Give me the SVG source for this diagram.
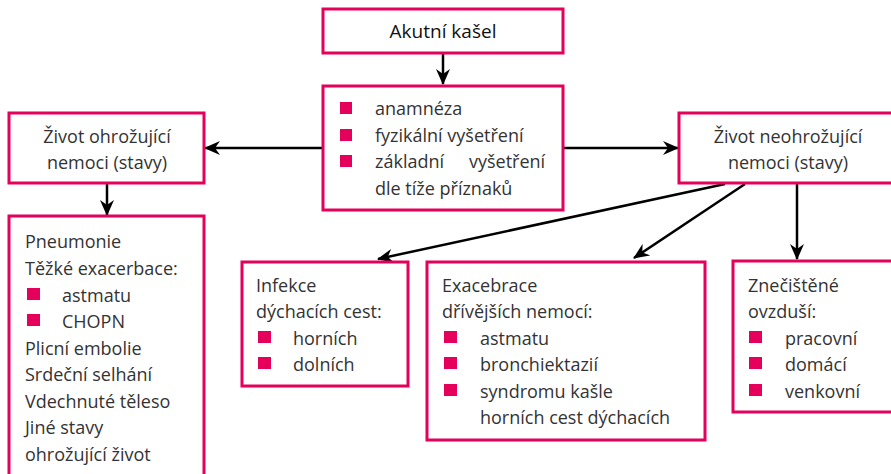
<svg xmlns="http://www.w3.org/2000/svg" width="891" height="474" viewBox="0 0 891 474">
<defs>
<style>
.box{fill:#fff;stroke:#e4005b;stroke-width:3}
.t{font-family:"Open Sans","Noto Sans","DejaVu Sans",sans-serif;font-size:18px;fill:#333}
.c{text-anchor:middle}
.b{fill:#e4005b}
.ln{stroke:#000;stroke-width:2.5;fill:none;marker-end:url(#ah)}
</style>
<marker id="ah" markerUnits="userSpaceOnUse" markerWidth="16" markerHeight="14" refX="15" refY="7" orient="auto">
<path d="M0,0 L16,7 L0,14 L5,7 Z" fill="#000"/>
</marker>
</defs>
<rect width="891" height="474" fill="#fff"/>
<g id="connectors">
<line class="ln" x1="443" y1="54" x2="443" y2="84"/>
<line class="ln" x1="323" y1="148" x2="205" y2="148"/>
<line class="ln" x1="563" y1="148" x2="678" y2="148"/>
<line class="ln" x1="107" y1="184" x2="107" y2="215"/>
<line class="ln" x1="725" y1="184" x2="378" y2="259"/>
<line class="ln" x1="745" y1="184" x2="634" y2="258"/>
<line class="ln" x1="797" y1="184" x2="797" y2="259"/>
</g>
<g id="akutni">
<rect class="box" x="323" y="9" width="240" height="44"/>
<text class="t c" x="443" y="38" style="font-size:19px;fill:#111">Akutní kašel</text>
</g>
<g id="anamneza">
<rect class="box" x="323" y="86" width="240" height="124"/>
<rect class="b" x="340" y="102" width="12" height="12"/>
<rect class="b" x="340" y="129" width="12" height="12"/>
<rect class="b" x="340" y="155" width="12" height="12"/>
<text class="t" x="375" y="115">anamnéza</text>
<text class="t" x="375" y="142">fyzikální vyšetření</text>
<text class="t" x="375" y="168">základní<tspan x="469">vyšetření</tspan></text>
<text class="t" x="375" y="195">dle tíže příznaků</text>
</g>
<g id="ohrozujici">
<rect class="box" x="9" y="113" width="195" height="70"/>
<text class="t c" x="107" y="143">Život ohrožující</text>
<text class="t c" x="107" y="169">nemoci (stavy)</text>
</g>
<g id="neohrozujici">
<rect class="box" x="679" y="113" width="220" height="70"/>
<text class="t c" x="788" y="143">Život neohrožující</text>
<text class="t c" x="788" y="169">nemoci (stavy)</text>
</g>
<g id="zivot-list">
<rect class="box" x="9" y="216" width="195" height="262"/>
<text class="t" x="25" y="248">Pneumonie</text>
<text class="t" x="25" y="275">Těžké exacerbace:</text>
<rect class="b" x="27" y="288" width="13" height="12"/>
<text class="t" x="62" y="302">astmatu</text>
<rect class="b" x="27" y="314" width="13" height="12"/>
<text class="t" x="62" y="328">CHOPN</text>
<text class="t" x="25" y="355">Plicní embolie</text>
<text class="t" x="25" y="381">Srdeční selhání</text>
<text class="t" x="25" y="408">Vdechnuté těleso</text>
<text class="t" x="25" y="434">Jiné stavy</text>
<text class="t" x="25" y="461">ohrožující život</text>
</g>
<g id="infekce">
<rect class="box" x="242" y="262" width="166" height="124"/>
<text class="t" x="256" y="292">Infekce</text>
<text class="t" x="256" y="318">dýchacích cest:</text>
<rect class="b" x="258" y="331" width="13" height="12"/>
<text class="t" x="293" y="345">horních</text>
<rect class="b" x="258" y="357" width="13" height="12"/>
<text class="t" x="293" y="371">dolních</text>
</g>
<g id="exacebrace">
<rect class="box" x="427" y="262" width="278" height="178"/>
<text class="t" x="442" y="292">Exacebrace</text>
<text class="t" x="442" y="318">dřívějších nemocí:</text>
<rect class="b" x="444" y="331" width="13" height="12"/>
<text class="t" x="480" y="345">astmatu</text>
<rect class="b" x="444" y="357" width="13" height="12"/>
<text class="t" x="480" y="371">bronchiektazií</text>
<rect class="b" x="444" y="384" width="13" height="12"/>
<text class="t" x="480" y="398">syndromu kašle</text>
<text class="t" x="480" y="424">horních cest dýchacích</text>
</g>
<g id="ovzdusi">
<rect class="box" x="733" y="261" width="166" height="151"/>
<text class="t" x="748" y="292">Znečištěné</text>
<text class="t" x="748" y="318">ovzduší:</text>
<rect class="b" x="749" y="331" width="13" height="12"/>
<text class="t" x="785" y="345">pracovní</text>
<rect class="b" x="749" y="357" width="13" height="12"/>
<text class="t" x="785" y="371">domácí</text>
<rect class="b" x="749" y="384" width="13" height="12"/>
<text class="t" x="785" y="398">venkovní</text>
</g>
</svg>
